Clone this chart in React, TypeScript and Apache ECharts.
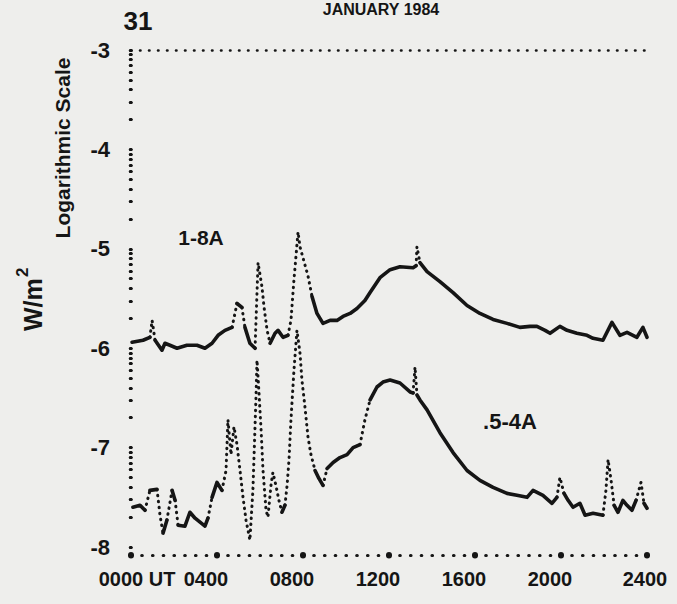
import React, { useEffect, useRef } from 'react';
import * as echarts from 'echarts';

// ---- data (hours UT, log10 flux W/m^2) ----
const hours18 = [0.05, 0.56, 0.88, 0.98, 1.12, 1.44, 1.58, 1.81, 2.14, 2.6, 3.07, 3.44, 3.77, 4.05, 4.37, 4.7, 4.93, 5.16, 5.3, 5.53, 5.77, 5.91, 6.09, 6.19, 6.33, 6.47, 6.7, 6.84, 7.07, 7.3, 7.44, 7.58, 7.77, 7.86, 8.05, 8.23, 8.42, 8.65, 8.93, 9.26, 9.58, 9.86, 10.19, 10.51, 10.88, 11.12, 11.58, 12.05, 12.51, 13.12, 13.26, 13.3, 13.44, 13.77, 14.37, 14.98, 15.63, 16.23, 16.84, 17.49, 18.09, 18.56, 18.88, 19.26, 19.49, 19.95, 20.28, 20.74, 21.21, 21.49, 21.95, 22.37, 22.74, 23.07, 23.53, 23.81, 24.0];
const flux18 = [-5.94, -5.92, -5.89, -5.72, -5.92, -6.02, -5.95, -5.97, -6.0, -5.97, -5.97, -6.0, -5.95, -5.87, -5.82, -5.79, -5.55, -5.59, -5.79, -5.95, -6.0, -5.14, -5.38, -5.59, -5.82, -5.95, -5.85, -5.82, -5.89, -5.87, -5.72, -5.31, -4.83, -4.98, -5.13, -5.27, -5.48, -5.65, -5.75, -5.72, -5.72, -5.68, -5.65, -5.6, -5.52, -5.44, -5.29, -5.21, -5.18, -5.19, -5.17, -4.98, -5.14, -5.23, -5.33, -5.44, -5.57, -5.65, -5.71, -5.75, -5.79, -5.78, -5.78, -5.82, -5.85, -5.78, -5.82, -5.85, -5.87, -5.9, -5.92, -5.74, -5.87, -5.84, -5.89, -5.79, -5.89];

const hours054 = [0.09, 0.42, 0.65, 0.88, 1.21, 1.35, 1.49, 1.67, 1.91, 2.05, 2.19, 2.51, 2.74, 2.98, 3.21, 3.44, 3.58, 3.77, 4.0, 4.23, 4.42, 4.51, 4.65, 4.79, 4.93, 5.07, 5.21, 5.35, 5.53, 5.67, 5.81, 5.86, 5.95, 6.05, 6.14, 6.28, 6.37, 6.51, 6.6, 6.74, 6.88, 7.02, 7.16, 7.26, 7.35, 7.44, 7.58, 7.72, 7.86, 7.95, 8.09, 8.23, 8.37, 8.56, 8.74, 8.93, 9.12, 9.4, 9.72, 10.05, 10.33, 10.65, 10.88, 11.12, 11.44, 11.72, 12.05, 12.51, 12.98, 13.12, 13.21, 13.3, 13.44, 13.77, 14.37, 14.98, 15.63, 16.23, 16.84, 17.49, 17.95, 18.42, 18.7, 19.16, 19.58, 19.81, 19.95, 20.14, 20.33, 20.56, 20.88, 21.12, 21.49, 21.95, 22.09, 22.19, 22.33, 22.47, 22.65, 22.88, 23.07, 23.3, 23.49, 23.72, 23.86, 24.0];
const flux054 = [-7.6, -7.58, -7.63, -7.43, -7.42, -7.68, -7.86, -7.73, -7.43, -7.53, -7.78, -7.79, -7.65, -7.71, -7.75, -7.79, -7.71, -7.5, -7.35, -7.43, -7.23, -6.72, -7.07, -6.79, -6.97, -7.23, -7.5, -7.73, -7.93, -7.43, -6.52, -6.12, -6.44, -6.82, -7.23, -7.63, -7.7, -7.38, -7.25, -7.38, -7.53, -7.65, -7.58, -7.38, -7.12, -6.72, -6.22, -5.82, -6.05, -6.32, -6.59, -6.89, -7.07, -7.23, -7.31, -7.38, -7.21, -7.15, -7.1, -7.07, -7.0, -6.97, -6.72, -6.52, -6.39, -6.34, -6.32, -6.35, -6.44, -6.45, -6.19, -6.47, -6.52, -6.62, -6.85, -7.05, -7.23, -7.33, -7.4, -7.46, -7.48, -7.5, -7.43, -7.48, -7.56, -7.5, -7.3, -7.46, -7.53, -7.6, -7.56, -7.68, -7.66, -7.68, -7.43, -7.12, -7.33, -7.58, -7.65, -7.53, -7.58, -7.63, -7.53, -7.35, -7.56, -7.61];

// ---- axis tick labels ----
const xTickHours = [0, 4, 8, 12, 16, 20, 24];
const xTickLabels = ['0000 UT', '0400', '0800', '1200', '1600', '2000', '2400'];
const yTickValues = [-8, -7, -6, -5, -4, -3];
const decades = [-8, -7, -6, -5, -4];
const logMultipliers = [1, 2, 3, 4, 5, 6, 7, 8, 9];

// ---- texts ----
const titleText = 'JANUARY 1984';
const dayText = '31';
const scaleText = 'Logarithmic Scale';
const unitText = 'W/m';
const unitSup = '2';
const band18Text = '1-8A';
const band054Text = '.5-4A';

const INK = '#151515';
const BG = '#eeeeec';
const FONT = "'Liberation Sans', Arial, sans-serif";
const STEEP = 0.75;

function splitSegments(hs: number[], vs: number[], thr: number) {
  const solid: any[] = [];
  const dotted: any[] = [];
  let prev: boolean | null = null;
  for (let i = 0; i < hs.length - 1; i++) {
    const steep = Math.abs((vs[i + 1] - vs[i]) / (hs[i + 1] - hs[i])) > thr;
    const arr = steep ? dotted : solid;
    if (prev !== steep) {
      if (arr.length) arr.push(['-', '-']);
      arr.push([hs[i], vs[i]]);
    }
    arr.push([hs[i + 1], vs[i + 1]]);
    prev = steep;
  }
  return { solid, dotted };
}

export default function App() {
  const ref = useRef<HTMLDivElement>(null);
  useEffect(() => {
    document.body.style.margin = '0';
    document.body.style.background = BG;
    if (!ref.current) return;
    const chart = echarts.init(ref.current, null, { renderer: 'svg' });

    const logTicks = decades
      .flatMap((d) => logMultipliers.map((k) => d + Math.log10(k)))
      .concat([-3]);

    const s18 = splitSegments(hours18, flux18, STEEP);
    const s054 = splitSegments(hours054, flux054, STEEP);

    const solidStyle = { color: INK, width: 3.6, join: 'round', cap: 'round' };
    const dotStyle = { color: INK, width: 3, type: [0.5, 5.5], cap: 'round' };

    const yAxisCfg = (position: 'left' | 'right') => ({
      type: 'value',
      min: -8.08,
      max: -3,
      position,
      axisLine: { show: false },
      splitLine: { show: false },
      axisTick: {
        show: true,
        customValues: logTicks,
        length: 0.5,
        inside: position === 'right',
        lineStyle: { color: INK, width: 3.2, cap: 'round' },
      },
      axisLabel:
        position === 'left'
          ? {
              show: true,
              customValues: yTickValues,
              formatter: (v: number) => String(v),
              margin: 21,
              color: INK,
              fontFamily: FONT,
              fontWeight: 'bold',
              fontSize: 22,
            }
          : { show: false },
    });

    const labelFont = { fontFamily: FONT, fontWeight: 'bold', fontSize: 20, color: INK };

    const option: any = {
      animation: false,
      backgroundColor: BG,
      grid: { left: 131, right: 30, top: 50, bottom: 49, containLabel: false, outerBoundsMode: 'none' },
      xAxis: [
        {
          type: 'value',
          min: 0,
          max: 24,
          interval: 4,
          position: 'bottom',
          axisLine: {
            onZero: false,
            lineStyle: { color: INK, width: 3.2, type: [0.5, 10.25], cap: 'round' },
          },
          axisTick: { show: true, length: 0.5, lineStyle: { color: INK, width: 6, cap: 'round' } },
          splitLine: { show: false },
          axisLabel: {
            margin: 14,
            showMinLabel: true,
            showMaxLabel: true,
            hideOverlap: false,
            ...labelFont,
            formatter: (v: number) => {
              const i = xTickHours.indexOf(v);
              if (i < 0) return '';
              const key = i === 0 ? 'first' : i === xTickHours.length - 1 ? 'last' : 'mid';
              return '{' + key + '|' + xTickLabels[i] + '}';
            },
            rich: {
              first: { ...labelFont, padding: [0, 0, 0, 12] },
              mid: { ...labelFont, padding: [0, 22, 0, 0] },
              last: { ...labelFont, padding: [0, 4, 0, 0] },
            },
          },
        },
        {
          type: 'value',
          min: 0,
          max: 24,
          position: 'top',
          axisLine: {
            onZero: false,
            lineStyle: { color: INK, width: 2.6, type: [0.5, 8.5], cap: 'round' },
          },
          axisTick: { show: false },
          axisLabel: { show: false },
          splitLine: { show: false },
        },
      ],
      yAxis: [yAxisCfg('left'), yAxisCfg('right')],
      series: [
        { name: '1-8A', type: 'line', data: s18.solid, showSymbol: false, silent: true, connectNulls: false, lineStyle: solidStyle },
        { name: '1-8A steep', type: 'line', data: s18.dotted, showSymbol: false, silent: true, connectNulls: false, lineStyle: dotStyle },
        { name: '.5-4A', type: 'line', data: s054.solid, showSymbol: false, silent: true, connectNulls: false, lineStyle: solidStyle },
        { name: '.5-4A steep', type: 'line', data: s054.dotted, showSymbol: false, silent: true, connectNulls: false, lineStyle: dotStyle },
      ],
      graphic: [
        {
          type: 'text', x: 381, y: 9,
          style: { text: titleText, fill: INK, font: `bold 16px ${FONT}`, align: 'center', verticalAlign: 'middle', textAlign: 'center', textVerticalAlign: 'middle' },
        },
        {
          type: 'text', x: 138, y: 21,
          style: { text: dayText, fill: INK, font: `bold 26px ${FONT}`, align: 'center', verticalAlign: 'middle', textAlign: 'center', textVerticalAlign: 'middle' },
        },
        {
          type: 'text', x: 62, y: 148, rotation: Math.PI / 2,
          style: { text: scaleText, fill: INK, font: `bold 21px ${FONT}`, align: 'center', verticalAlign: 'middle', textAlign: 'center', textVerticalAlign: 'middle' },
        },
        {
          type: 'group', x: 33, y: 331, rotation: Math.PI / 2,
          children: [
            { type: 'text', x: 0, y: 0, style: { text: unitText, fill: INK, font: `bold 25px ${FONT}`, align: 'left', verticalAlign: 'middle', textAlign: 'left', textVerticalAlign: 'middle' } },
            { type: 'text', x: 54, y: -11, style: { text: unitSup, fill: INK, font: `bold 17px ${FONT}`, align: 'left', verticalAlign: 'middle', textAlign: 'left', textVerticalAlign: 'middle' } },
          ],
        },
        {
          type: 'text', x: 201, y: 237,
          style: { text: band18Text, fill: INK, font: `bold 21px ${FONT}`, align: 'center', verticalAlign: 'middle', textAlign: 'center', textVerticalAlign: 'middle' },
        },
        {
          type: 'text', x: 510, y: 421,
          style: { text: band054Text, fill: INK, font: `bold 22px ${FONT}`, align: 'center', verticalAlign: 'middle', textAlign: 'center', textVerticalAlign: 'middle' },
        },
      ],
    };

    chart.setOption(option);
    return () => chart.dispose();
  }, []);
  return <div ref={ref} style={{ width: 677, height: 604 }} />;
}
